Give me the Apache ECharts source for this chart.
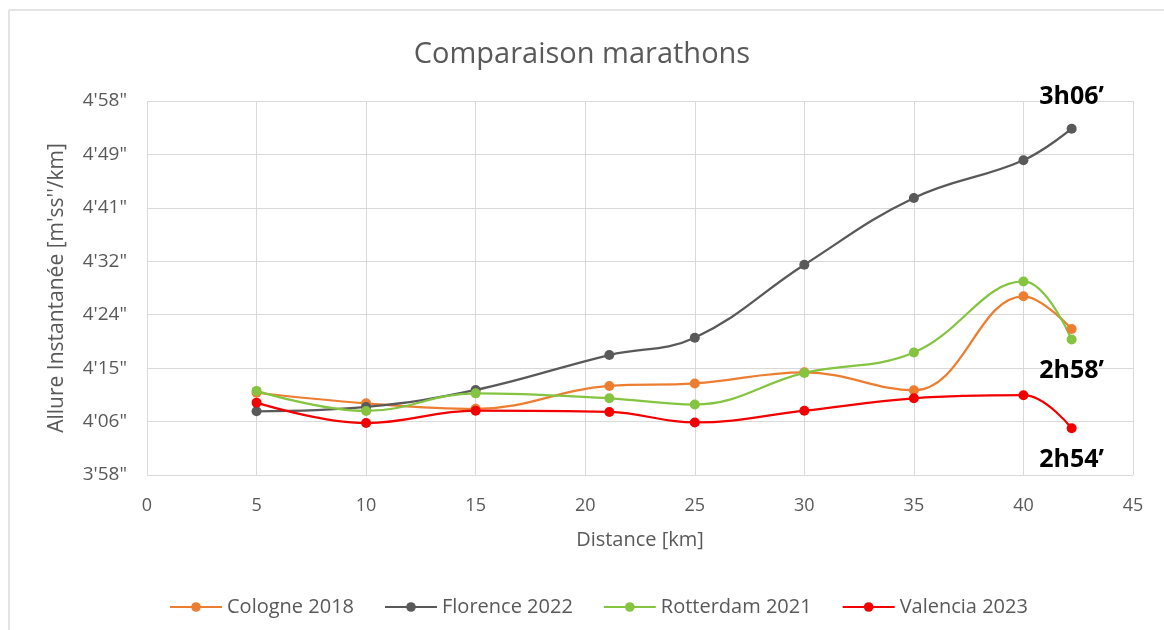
<!DOCTYPE html>
<html>
<head>
<meta charset="utf-8">
<script src="https://cdn.jsdelivr.net/npm/echarts@6/dist/echarts.min.js"></script>
<style>html,body{margin:0;padding:0;background:#fff;}#c{width:1164px;height:630px;}</style>
</head>
<body>
<div id="c"></div>
<script>
// Distances (km)
var distances = [5, 10, 15, 21.1, 25, 30, 35, 40, 42.2];
// Pace in seconds per km
var cologne   = [250.9, 249.2, 248.3, 252.0, 252.4, 254.2, 251.3, 266.5, 261.2];
var florence  = [247.9, 248.6, 251.35, 257.0, 259.8, 271.6, 282.4, 288.5, 293.6];
var rotterdam = [251.2, 247.95, 250.8, 250.0, 249.0, 254.1, 257.4, 268.9, 259.5];
var valencia  = [249.3, 246.0, 248.0, 247.8, 246.1, 248.0, 250.0, 250.5, 245.15];
var seriesNames = ['Cologne 2018', 'Florence 2022', 'Rotterdam 2021', 'Valencia 2023'];
var finishTimes = ['', '3h06\u2019', '2h58\u2019', '2h54\u2019'];
// y tick labels (Excel time axis, from 3'58" in steps of 0.0001 day)
var yTickLabels = ['3\'58"', '4\'06"', '4\'15"', '4\'24"', '4\'32"', '4\'41"', '4\'49"', '4\'58"'];
var yMinSec = 237.6, yMaxSec = 298.08;
var xTicks = [0, 45, 5];

var FONT = '"Open Sans", "Noto Sans", sans-serif';
var GREY = '#595959';
var colors = ['#ED7D31', '#595959', '#84C441', '#F20000'];
var allValues = [cologne, florence, rotterdam, valencia];
var labelPos = ['top', 'top', 'bottom', 'bottom'];

var series = allValues.map(function (vals, si) {
  var data = vals.map(function (v, i) {
    var item = { value: [distances[i], v] };
    if (i === vals.length - 1 && finishTimes[si]) {
      item.label = {
        show: true,
        formatter: finishTimes[si],
        position: labelPos[si],
        distance: 14,
        fontSize: 25,
        fontWeight: 'bold',
        color: '#000',
        fontFamily: FONT
      };
    }
    return item;
  });
  return {
    name: seriesNames[si],
    type: 'line',
    yAxisIndex: 0,
    smooth: 0.4,
    symbol: 'circle',
    symbolSize: 10,
    data: data,
    z: 2 + (si === 3 ? 1 : 0),
    lineStyle: { color: colors[si], width: 2.25 },
    itemStyle: { color: colors[si] },
    label: { show: false }
  };
});

var chart = echarts.init(document.getElementById('c'), null, { renderer: 'canvas' });
chart.setOption({
  backgroundColor: '#ffffff',
  animation: false,
  title: {
    text: 'Comparaison marathons',
    left: 'center',
    top: 35,
    textStyle: { fontFamily: FONT, fontSize: 29, fontWeight: 'normal', color: GREY }
  },
  grid: { left: 147, right: 31, top: 101, bottom: 155 },
  xAxis: {
    type: 'value',
    min: xTicks[0], max: xTicks[1], interval: xTicks[2],
    axisLine: { show: false },
    axisTick: { show: false },
    splitLine: { show: true, lineStyle: { color: '#d9d9d9', width: 1 } },
    axisLabel: { color: GREY, fontFamily: FONT, fontSize: 18, margin: 22 },
    name: 'Distance [km]',
    nameLocation: 'middle',
    nameGap: 55,
    nameTextStyle: { color: GREY, fontFamily: FONT, fontSize: 20 }
  },
  yAxis: [
    {
      type: 'value',
      min: yMinSec, max: yMaxSec,
      show: false,
      splitLine: { show: false }
    },
    {
      type: 'value',
      position: 'left',
      min: 0, max: yTickLabels.length - 1, interval: 1,
      axisLine: { show: false },
      axisTick: { show: false },
      splitLine: { show: true, lineStyle: { color: '#d9d9d9', width: 1 } },
      axisLabel: {
        color: GREY, fontFamily: FONT, fontSize: 19, margin: 20,
        formatter: function (v) { return yTickLabels[Math.round(v)]; }
      },
      name: 'Allure Instantan\u00e9e [m\'ss\'\'/km]',
      nameLocation: 'middle',
      nameGap: 79,
      nameTextStyle: { color: GREY, fontFamily: FONT, fontSize: 21 }
    }
  ],
  legend: {
    data: seriesNames,
    left: 164,
    top: 592,
    itemWidth: 52,
    itemHeight: 12,
    itemGap: 30,
    textStyle: { color: GREY, fontFamily: FONT, fontSize: 20 }
  },
  graphic: [
    { type: 'line', shape: { x1: 9, y1: 10, x2: 1164, y2: 10 }, style: { stroke: '#e4e4e4', lineWidth: 2 } },
    { type: 'line', shape: { x1: 9, y1: 10, x2: 9, y2: 630 }, style: { stroke: '#e4e4e4', lineWidth: 2 } }
  ],
  series: series
});
</script>
</body>
</html>
